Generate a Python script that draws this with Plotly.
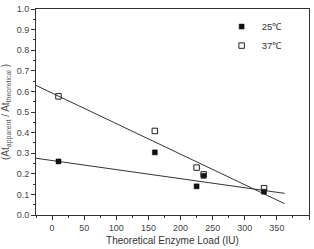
import plotly.graph_objects as go

load_25 = [10, 160, 225, 236, 330]
ratio_25 = [0.26, 0.304, 0.139, 0.19, 0.113]
load_37 = [10, 160, 225, 236, 330]
ratio_37 = [0.576, 0.408, 0.23, 0.197, 0.13]
fit_x = [-25, 362]
fit_25 = [0.2755, 0.105]
fit_37 = [0.629, 0.055]

fig = go.Figure()
fig.add_trace(go.Scatter(x=fit_x, y=fit_37, mode="lines", line=dict(color="#333", width=1), showlegend=False))
fig.add_trace(go.Scatter(x=fit_x, y=fit_25, mode="lines", line=dict(color="#333", width=1), showlegend=False))
fig.add_trace(go.Scatter(x=load_25, y=ratio_25, mode="markers", name="25℃",
                         marker=dict(symbol="square", size=5, color="#111", line=dict(color="#111", width=0.5))))
fig.add_trace(go.Scatter(x=load_37, y=ratio_37, mode="markers", name="37℃",
                         marker=dict(symbol="square-open", size=5.5, color="#222", line=dict(width=1))))

font = dict(family="Liberation Sans, Arial", size=9, color="#444")
fig.update_layout(
    width=314, height=249, margin=dict(l=35, r=4, t=6, b=30),
    paper_bgcolor="white", plot_bgcolor="white", font=font,
    legend=dict(x=0.68, y=0.985, xanchor="left", yanchor="top", bgcolor="rgba(0,0,0,0)",
                font=dict(family="Liberation Sans, Arial", size=9.5, color="#333"),
                itemwidth=30, tracegroupgap=0),
    xaxis=dict(range=[-25, 400], tickmode="array", tickvals=list(range(0, 401, 50)),
               ticks="outside", ticklen=4, tickcolor="#333", showline=True, linecolor="#333", mirror=True,
               showgrid=False, zeroline=False,
               minor=dict(ticks="outside", ticklen=2, tickcolor="#333", dtick=25, tick0=0),
               title=dict(text="Theoretical Enzyme Load (IU)", font=dict(size=10, color="#333"), standoff=5)),
    yaxis=dict(range=[0, 1.0], dtick=0.1, tickformat=".1f",
               ticks="outside", ticklen=4, tickcolor="#333", showline=True, linecolor="#333", mirror=True,
               showgrid=False, zeroline=False,
               minor=dict(ticks="outside", ticklen=2, tickcolor="#333", dtick=0.05),
               title=dict(text="(At<sub>apparent</sub> / At<sub>theoretical</sub> )", font=dict(size=10, color="#555"), standoff=6)),
)
fig.write_html("out.html")
